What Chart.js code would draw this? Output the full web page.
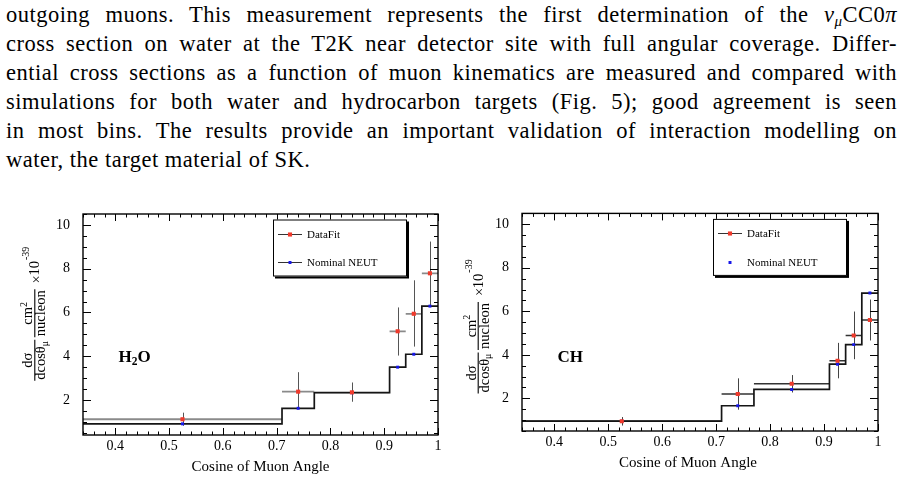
<!DOCTYPE html>
<html><head><meta charset="utf-8">
<script src="https://cdn.jsdelivr.net/npm/chart.js@4/dist/chart.umd.min.js"></script>
<style>
html,body{margin:0;padding:0;background:#fff;width:904px;height:479px;overflow:hidden;font-family:"Liberation Serif",serif;}
#text{position:absolute;left:6px;top:0px;width:891px;font-family:"Liberation Serif",serif;font-size:22.5px;letter-spacing:0.5px;line-height:29px;color:#000;}
.ln{width:891px;height:29px;overflow:visible;text-align:justify;text-align-last:justify;}
.ln.last{text-align-last:left;}
.ln sub{font-size:15px;vertical-align:-4px;line-height:0;}
.cv{position:absolute;}
</style></head>
<body>
<div id="text">
<div class="ln">outgoing muons. This measurement represents the first determination of the <i>ν</i><sub><i>μ</i></sub>CC0<i>π</i></div>
<div class="ln">cross section on water at the T2K near detector site with full angular coverage. Differ-</div>
<div class="ln">ential cross sections as a function of muon kinematics are measured and compared with</div>
<div class="ln">simulations for both water and hydrocarbon targets (Fig. 5); good agreement is seen</div>
<div class="ln">in most bins. The results provide an important validation of interaction modelling on</div>
<div class="ln last">water, the target material of SK.</div>
</div>
<canvas id="c1" class="cv" width="450" height="279" style="left:0px;top:200px;width:450px;height:279px"></canvas>
<canvas id="c2" class="cv" width="454" height="279" style="left:450px;top:200px;width:454px;height:279px"></canvas>
<script>
// ---------- data ----------
const binEdges   = [0.34, 0.71, 0.77, 0.91, 0.94, 0.97, 1.0];
const binCenters = [0.525, 0.74, 0.84, 0.925, 0.955, 0.985];

const h2oData  = [1.12, 2.38, 2.35, 5.14, 5.94, 7.79];
const h2oErrLo = [0.82, 1.60, 1.92, 4.03, 4.44, 6.29];
const h2oErrHi = [1.42, 3.27, 2.80, 6.23, 7.47, 9.24];
const h2oNeut  = [0.91, 1.62, 2.33, 3.50, 4.09, 6.29];

const chData   = [0.95, 2.20, 2.67, 3.73, 4.89, 5.60];
const chErrLo  = [0.75, 1.48, 2.27, 2.92, 3.80, 4.66];
const chErrHi  = [1.14, 2.92, 3.07, 4.55, 5.99, 6.54];
const chNeut   = [0.95, 1.66, 2.41, 3.57, 4.47, 6.84];

const xTicks      = [0.4, 0.5, 0.6, 0.7, 0.8, 0.9, 1.0];
const xTickLabels = ['0.4', '0.5', '0.6', '0.7', '0.8', '0.9', '1'];
const yTicks      = [2, 4, 6, 8, 10];
const yTickLabels = ['2', '4', '6', '8', '10'];
const seriesLabels = ['DataFit', 'Nominal NEUT'];
const xTitle = 'Cosine of Muon Angle';

// ---------- style constants ----------
const SERIF = "'Liberation Serif','Times New Roman',serif";
const RED = '#f03a2c', BLUE = '#1616e8';
const X_MINOR = 0.02, X_MAJOR = 0.1, Y_MINOR = 0.5, Y_MAJOR = 2;

function tickLoop(min, max, step, major, cb) {
  const s = Math.ceil(min / step - 1e-6), e = Math.floor(max / step + 1e-6);
  for (let k = s; k <= e; k++) {
    const v = k * step;
    const isMajor = Math.abs(v / major - Math.round(v / major)) < 1e-6;
    cb(v, isMajor);
  }
}

const framePlugin = {
  id: 'frameTicks',
  afterDatasetsDraw(chart) {
    const {ctx, chartArea: a, scales: {x, y}} = chart;
    ctx.save();
    ctx.strokeStyle = '#000';
    ctx.lineWidth = 1;
    ctx.beginPath();
    tickLoop(x.min, x.max, X_MINOR, X_MAJOR, (v, M) => {
      const px = Math.round(x.getPixelForValue(v)) + 0.5;
      const L = M ? 7 : 3.5;
      ctx.moveTo(px, a.bottom); ctx.lineTo(px, a.bottom - L);
      ctx.moveTo(px, a.top); ctx.lineTo(px, a.top + L);
    });
    tickLoop(y.min, y.max, Y_MINOR, Y_MAJOR, (v, M) => {
      const py = Math.round(y.getPixelForValue(v)) + 0.5;
      const L = M ? 8 : 4;
      ctx.moveTo(a.left, py); ctx.lineTo(a.left + L, py);
      ctx.moveTo(a.right, py); ctx.lineTo(a.right - L, py);
    });
    ctx.stroke();
    ctx.lineWidth = 1.4;
    ctx.strokeRect(a.left, a.top, a.right - a.left, a.bottom - a.top);
    ctx.restore();
  }
};

const errorPlugin = {
  id: 'errBars',
  beforeDatasetsDraw(chart) {
    const {ctx, chartArea: a, scales: {x, y}} = chart;
    const e = chart.options.plugins.errBars;
    ctx.save();
    ctx.beginPath(); ctx.rect(a.left, a.top, a.right - a.left, a.bottom - a.top); ctx.clip();
    ctx.strokeStyle = e.hColor; ctx.lineWidth = e.hWidth;
    ctx.beginPath();
    e.vals.forEach((v, i) => {
      const py = y.getPixelForValue(v);
      ctx.moveTo(x.getPixelForValue(binEdges[i]), py);
      ctx.lineTo(x.getPixelForValue(binEdges[i + 1]), py);
    });
    ctx.stroke();
    ctx.strokeStyle = e.vColor; ctx.lineWidth = 1;
    ctx.beginPath();
    e.vals.forEach((v, i) => {
      const px = Math.round(x.getPixelForValue(binCenters[i])) + 0.5;
      ctx.moveTo(px, y.getPixelForValue(e.lo[i]));
      ctx.lineTo(px, y.getPixelForValue(e.hi[i]));
    });
    ctx.stroke();
    ctx.restore();
  }
};

function drawYTitle(ctx, bx, cy) {
  ctx.save();
  ctx.translate(bx, cy);
  ctx.rotate(-Math.PI / 2);
  ctx.fillStyle = '#000'; ctx.strokeStyle = '#000';
  ctx.textBaseline = 'alphabetic';
  const F = '14.5px ' + SERIF, FS = '10px ' + SERIF;
  ctx.font = F;
  ctx.textAlign = 'center';
  ctx.fillText('dσ', 0, -2);
  const w1 = ctx.measureText('dcosθ').width;
  ctx.font = FS; const w2 = ctx.measureText('μ').width;
  const t1 = w1 + w2;
  ctx.textAlign = 'left';
  ctx.font = F; ctx.fillText('dcosθ', -t1 / 2, 11);
  ctx.font = FS; ctx.fillText('μ', -t1 / 2 + w1, 13.5);
  ctx.lineWidth = 1.1;
  ctx.beginPath(); ctx.moveTo(-t1 / 2 - 1, 0.5); ctx.lineTo(t1 / 2 + 1, 0.5); ctx.stroke();
  const c2 = 47;
  ctx.font = F;
  const wn = ctx.measureText('nucleon').width;
  const wc = ctx.measureText('cm').width;
  ctx.font = FS; const ws = ctx.measureText('2').width;
  ctx.font = F; ctx.fillText('cm', c2 - (wc + ws) / 2, -2);
  ctx.font = FS; ctx.fillText('2', c2 - (wc + ws) / 2 + wc, -7.5);
  ctx.font = F; ctx.fillText('nucleon', c2 - wn / 2, 11);
  ctx.beginPath(); ctx.moveTo(c2 - wn / 2 - 1, 0.5); ctx.lineTo(c2 + wn / 2 + 1, 0.5); ctx.stroke();
  ctx.textAlign = 'center';
  ctx.font = F; ctx.fillText('×', 81, 6.5);
  ctx.font = F; ctx.fillText('10', 92, 5);
  ctx.font = FS; ctx.fillText('-39', 107, -5.5);
  ctx.restore();
}

function drawLegend(ctx, a, ds, neutLine) {
  const W = 134, H = 57;
  const L = a.right - 31 - W, T = a.top + 5.5;
  ctx.save();
  ctx.fillStyle = '#000';
  ctx.fillRect(L + 2, T + 2, W, H);
  ctx.fillStyle = '#fff';
  ctx.fillRect(L, T, W, H);
  ctx.strokeStyle = '#000'; ctx.lineWidth = 1;
  ctx.strokeRect(L + 0.5, T + 0.5, W - 1, H - 1);
  const rows = [T + 14.3, T + 42.7];
  ctx.font = '11px ' + SERIF;
  ctx.textBaseline = 'middle'; ctx.textAlign = 'left';
  [1, 2].forEach((di, r) => {
    const d = ds[di], yy = Math.round(rows[r]) + 0.5;
    if (r === 0 || neutLine) {
      ctx.strokeStyle = '#333'; ctx.lineWidth = 1;
      ctx.beginPath(); ctx.moveTo(L + 5, yy); ctx.lineTo(L + 29, yy); ctx.stroke();
    }
    const s = d.pointRadius * Math.SQRT1_2;
    ctx.fillStyle = d.pointBackgroundColor;
    ctx.fillRect(L + 17 - s, yy - s, 2 * s, 2 * s);
    ctx.fillStyle = '#000';
    ctx.fillText(d.label, L + 34, yy + 0.5);
  });
  ctx.restore();
}

const annoPlugin = {
  id: 'anno',
  afterDraw(chart) {
    const {ctx, chartArea: a} = chart;
    const o = chart.options.plugins.anno;
    drawYTitle(ctx, o.yTitleX, o.yTitleY);
    ctx.save();
    ctx.fillStyle = '#000';
    ctx.font = '15px ' + SERIF;
    ctx.textAlign = 'center'; ctx.textBaseline = 'middle';
    ctx.fillText(xTitle, (a.left + a.right) / 2 + o.xTitleDX, a.bottom + o.xTitleDY);
    ctx.textAlign = 'left'; ctx.textBaseline = 'alphabetic';
    let tx = a.left + 35.5;
    const ty = a.top + o.targetDY;
    o.target.forEach(p => {
      ctx.font = 'bold ' + p[1] + 'px ' + SERIF;
      ctx.fillText(p[0], tx, ty + p[2]);
      tx += ctx.measureText(p[0]).width;
    });
    ctx.restore();
    drawLegend(ctx, a, chart.data.datasets, o.neutLine);
  }
};

function makeChart(id, cfg) {
  const n = cfg.neut;
  return new Chart(document.getElementById(id), {
    type: 'scatter',
    data: {
      datasets: [
        { type: 'line', label: 'hist',
          data: binEdges.map((e, i) => ({x: e, y: n[Math.min(i, n.length - 1)]})),
          stepped: 'before', borderColor: '#151515', borderWidth: 1.7,
          pointRadius: 0, fill: false, order: 3 },
        { label: seriesLabels[0],
          data: binCenters.map((c, i) => ({x: c, y: cfg.data[i]})),
          pointStyle: 'rect', pointRadius: 2.9, pointBackgroundColor: RED,
          pointBorderWidth: 0, order: 1 },
        { label: seriesLabels[1],
          data: binCenters.map((c, i) => ({x: c, y: n[i]})),
          pointStyle: 'rect', pointRadius: 2.1, pointBackgroundColor: BLUE,
          pointBorderWidth: 0, order: 2 }
      ]
    },
    options: {
      responsive: false, animation: false, devicePixelRatio: 1, events: [],
      layout: {padding: {left: 0, right: cfg.padR, top: cfg.padT, bottom: 0}},
      plugins: {
        legend: {display: false}, tooltip: {enabled: false},
        errBars: {vals: cfg.data, lo: cfg.lo, hi: cfg.hi, hColor: cfg.hColor, hWidth: cfg.hWidth, vColor: cfg.vColor},
        anno: cfg.anno
      },
      scales: {
        x: {
          type: 'linear', min: 0.34, max: 1.0,
          afterBuildTicks: s => { s.ticks = xTicks.map(v => ({value: v})); },
          afterFit: s => { s.height = cfg.bottomH; },
          grid: {display: false}, border: {display: false},
          ticks: {callback: (v, i) => xTickLabels[i], font: {family: SERIF, size: 14},
                  color: '#000', padding: -5, maxRotation: 0, autoSkip: false}
        },
        y: {
          type: 'linear', min: cfg.yMin, max: 10.5,
          afterBuildTicks: s => { s.ticks = yTicks.map(v => ({value: v})); },
          afterFit: s => { s.width = cfg.leftW; },
          grid: {display: false}, border: {display: false},
          ticks: {callback: (v, i) => yTickLabels[i], font: {family: SERIF, size: 14},
                  color: '#000', padding: 5, autoSkip: false}
        }
      }
    },
    plugins: [errorPlugin, framePlugin, annoPlugin]
  });
}

makeChart('c1', {
  data: h2oData, lo: h2oErrLo, hi: h2oErrHi, neut: h2oNeut,
  yMin: 0.4, leftW: 83, padR: 12, padT: 14, bottomH: 44,
  hColor: '#8a8a8a', hWidth: 1.8, vColor: '#555',
  anno: {yTitleX: 34.3, yTitleY: 160.3, xTitleDX: 0, xTitleDY: 32,
         target: [['H', 17, 0], ['2', 11.5, 3.5], ['O', 17, 0]], targetDY: 147.7, neutLine: true}
});
makeChart('c2', {
  data: chData, lo: chErrLo, hi: chErrHi, neut: chNeut,
  yMin: 0.5, leftW: 72, padR: 26, padT: 10, bottomH: 48,
  hColor: '#333', hWidth: 1.4, vColor: '#444',
  anno: {yTitleX: 27.7, yTitleY: 173, xTitleDX: -12, xTitleDY: 32,
         target: [['CH', 17, 0]], targetDY: 149, neutLine: false}
});
</script>
</body></html>
